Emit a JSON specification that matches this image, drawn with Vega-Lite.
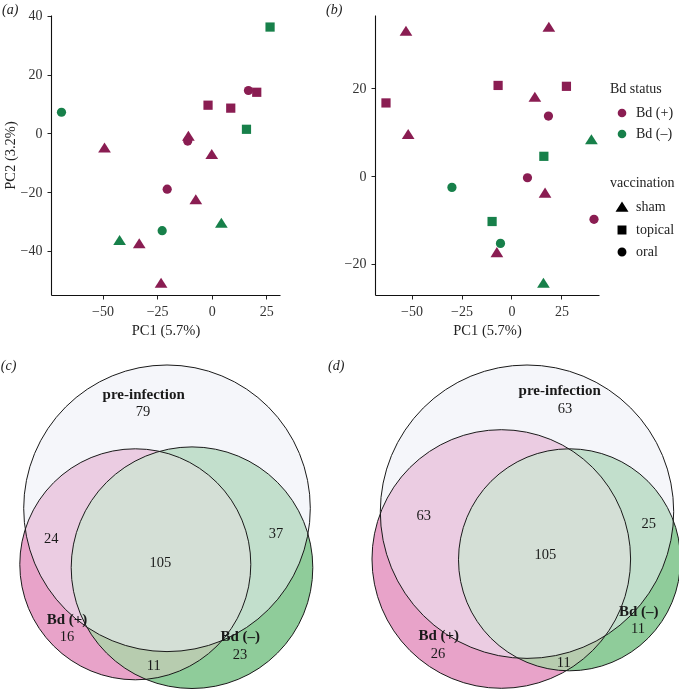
{
  "$schema": "https://vega.github.io/schema/vega-lite/v6.json",
  "background": "white",
  "padding": {"left": 0, "top": 2, "right": 0, "bottom": 0},
  "config": {
    "font": "Liberation Serif",
    "view": {"stroke": null},
    "axis": {"grid": false, "labelFlush": false, "domainColor": "#111", "domainWidth": 1.1, "tickColor": "#222", "tickSize": 4, "labelColor": "#333", "labelFontSize": 14, "labelPadding": 5, "titleColor": "#222", "titleFontSize": 14.5, "titleFontWeight": "normal", "titlePadding": 5},
    "legend": {"labelFontSize": 14, "titleFontSize": 14, "titleFontWeight": "normal", "labelColor": "#222", "titleColor": "#222"},
    "title": {"fontSize": 14, "fontStyle": "italic", "fontWeight": "normal", "anchor": "start", "color": "#222"}
  },
  "datasets": {
    "pca": [
      {"panel": "a", "pc1": 26.7, "pc2": 36.2, "status": "Bd (–)", "vacc": "topical"},
      {"panel": "a", "pc1": 16.8, "pc2": 14.6, "status": "Bd (+)", "vacc": "oral"},
      {"panel": "a", "pc1": 20.6, "pc2": 14.0, "status": "Bd (+)", "vacc": "topical"},
      {"panel": "a", "pc1": -1.7, "pc2": 9.6, "status": "Bd (+)", "vacc": "topical"},
      {"panel": "a", "pc1": 8.7, "pc2": 8.6, "status": "Bd (+)", "vacc": "topical"},
      {"panel": "a", "pc1": -68.8, "pc2": 7.2, "status": "Bd (–)", "vacc": "oral"},
      {"panel": "a", "pc1": 15.9, "pc2": 1.4, "status": "Bd (–)", "vacc": "topical"},
      {"panel": "a", "pc1": -10.7, "pc2": -0.8, "status": "Bd (+)", "vacc": "sham"},
      {"panel": "a", "pc1": -11.0, "pc2": -2.6, "status": "Bd (+)", "vacc": "oral"},
      {"panel": "a", "pc1": -49.1, "pc2": -4.8, "status": "Bd (+)", "vacc": "sham"},
      {"panel": "a", "pc1": 0.0, "pc2": -7.0, "status": "Bd (+)", "vacc": "sham"},
      {"panel": "a", "pc1": -20.4, "pc2": -19.0, "status": "Bd (+)", "vacc": "oral"},
      {"panel": "a", "pc1": -7.3, "pc2": -22.4, "status": "Bd (+)", "vacc": "sham"},
      {"panel": "a", "pc1": 4.4, "pc2": -30.4, "status": "Bd (–)", "vacc": "sham"},
      {"panel": "a", "pc1": -22.7, "pc2": -33.1, "status": "Bd (–)", "vacc": "oral"},
      {"panel": "a", "pc1": -42.2, "pc2": -36.3, "status": "Bd (–)", "vacc": "sham"},
      {"panel": "a", "pc1": -33.2, "pc2": -37.4, "status": "Bd (+)", "vacc": "sham"},
      {"panel": "a", "pc1": -23.2, "pc2": -50.8, "status": "Bd (+)", "vacc": "sham"},
      {"panel": "b", "pc1": -52.8, "pc2": 33.2, "status": "Bd (+)", "vacc": "sham"},
      {"panel": "b", "pc1": 18.7, "pc2": 34.1, "status": "Bd (+)", "vacc": "sham"},
      {"panel": "b", "pc1": -6.7, "pc2": 20.7, "status": "Bd (+)", "vacc": "topical"},
      {"panel": "b", "pc1": 27.5, "pc2": 20.5, "status": "Bd (+)", "vacc": "topical"},
      {"panel": "b", "pc1": -62.8, "pc2": 16.7, "status": "Bd (+)", "vacc": "topical"},
      {"panel": "b", "pc1": 11.7, "pc2": 18.1, "status": "Bd (+)", "vacc": "sham"},
      {"panel": "b", "pc1": 18.5, "pc2": 13.7, "status": "Bd (+)", "vacc": "oral"},
      {"panel": "b", "pc1": -51.7, "pc2": 9.6, "status": "Bd (+)", "vacc": "sham"},
      {"panel": "b", "pc1": 40.0, "pc2": 8.4, "status": "Bd (–)", "vacc": "sham"},
      {"panel": "b", "pc1": 16.2, "pc2": 4.5, "status": "Bd (–)", "vacc": "topical"},
      {"panel": "b", "pc1": 8.0, "pc2": -0.4, "status": "Bd (+)", "vacc": "oral"},
      {"panel": "b", "pc1": -29.8, "pc2": -2.6, "status": "Bd (–)", "vacc": "oral"},
      {"panel": "b", "pc1": 16.8, "pc2": -3.8, "status": "Bd (+)", "vacc": "sham"},
      {"panel": "b", "pc1": 41.3, "pc2": -9.9, "status": "Bd (+)", "vacc": "oral"},
      {"panel": "b", "pc1": -9.7, "pc2": -10.4, "status": "Bd (–)", "vacc": "topical"},
      {"panel": "b", "pc1": -5.5, "pc2": -15.4, "status": "Bd (–)", "vacc": "oral"},
      {"panel": "b", "pc1": -7.3, "pc2": -17.4, "status": "Bd (+)", "vacc": "sham"},
      {"panel": "b", "pc1": 16.0, "pc2": -24.4, "status": "Bd (–)", "vacc": "sham"}
    ],
    "circles": [
      {"panel": "c", "set": "pre-infection", "vx": 165, "vy": 181.7, "r": 143.3},
      {"panel": "c", "set": "Bd (+)", "vx": 133.3, "vy": 125.7, "r": 115.5},
      {"panel": "c", "set": "Bd (–)", "vx": 190, "vy": 122.3, "r": 120.8},
      {"panel": "d", "set": "pre-infection", "vx": 190, "vy": 178.3, "r": 146.7},
      {"panel": "d", "set": "Bd (+)", "vx": 164.3, "vy": 131, "r": 129.3},
      {"panel": "d", "set": "Bd (–)", "vx": 232.5, "vy": 130.2, "r": 111}
    ],
    "vlabels": [
      {"panel": "c", "kind": "name", "label": "pre-infection", "vx": 141.7, "vy": 295.7},
      {"panel": "c", "kind": "count", "label": "79", "vx": 141, "vy": 278.3},
      {"panel": "c", "kind": "count", "label": "24", "vx": 49.3, "vy": 150.7},
      {"panel": "c", "kind": "count", "label": "37", "vx": 274, "vy": 155.7},
      {"panel": "c", "kind": "count", "label": "105", "vx": 158.3, "vy": 127.3},
      {"panel": "c", "kind": "name", "label": "Bd (+)", "vx": 65, "vy": 70.7},
      {"panel": "c", "kind": "count", "label": "16", "vx": 65, "vy": 53},
      {"panel": "c", "kind": "name", "label": "Bd (–)", "vx": 238.3, "vy": 54},
      {"panel": "c", "kind": "count", "label": "23", "vx": 238, "vy": 35},
      {"panel": "c", "kind": "count", "label": "11", "vx": 151.7, "vy": 24},
      {"panel": "d", "kind": "name", "label": "pre-infection", "vx": 222.7, "vy": 300},
      {"panel": "d", "kind": "count", "label": "63", "vx": 228, "vy": 281},
      {"panel": "d", "kind": "count", "label": "63", "vx": 86.7, "vy": 174},
      {"panel": "d", "kind": "count", "label": "25", "vx": 311.7, "vy": 165.7},
      {"panel": "d", "kind": "count", "label": "105", "vx": 208.3, "vy": 134.7},
      {"panel": "d", "kind": "name", "label": "Bd (–)", "vx": 301.7, "vy": 79},
      {"panel": "d", "kind": "count", "label": "11", "vx": 301, "vy": 61.3},
      {"panel": "d", "kind": "name", "label": "Bd (+)", "vx": 101.7, "vy": 55},
      {"panel": "d", "kind": "count", "label": "26", "vx": 101, "vy": 35.7},
      {"panel": "d", "kind": "count", "label": "11", "vx": 226.7, "vy": 27.3}
    ]
  },
  "spacing": 19,
  "vconcat": [
    {
      "spacing": 46,
      "resolve": {"scale": {"color": "independent", "shape": "independent"}, "legend": {"color": "independent", "shape": "independent"}},
      "hconcat": [
        {
          "title": {"text": "(a)", "offset": -8},
          "width": 229,
          "height": 280,
          "data": {"name": "pca"},
          "transform": [{"filter": "datum.panel === 'a'"}],
          "mark": {"type": "point", "filled": true, "opacity": 1, "size": 85},
          "encoding": {
            "x": {"field": "pc1", "type": "quantitative", "scale": {"domain": [-73.6, 31.25], "nice": false, "zero": false}, "axis": {"values": [-50, -25, 0, 25], "title": "PC1 (5.7%)"}},
            "y": {"field": "pc2", "type": "quantitative", "scale": {"domain": [-55, 40.3], "nice": false, "zero": false}, "axis": {"values": [-40, -20, 0, 20, 40], "title": "PC2 (3.2%)", "titlePadding": 3}},
            "color": {"field": "status", "type": "nominal", "scale": {"domain": ["Bd (+)", "Bd (–)"], "range": ["#8a1d52", "#17804a"]}, "legend": null},
            "shape": {"field": "vacc", "type": "nominal", "scale": {"domain": ["sham", "topical", "oral"], "range": ["M0,-1.09L1.38,1.09L-1.38,1.09Z", "square", "circle"]}, "legend": null}
          }
        },
        {
          "title": {"text": "(b)", "offset": -2, "dx": -18},
          "width": 224,
          "height": 280,
          "data": {"name": "pca"},
          "transform": [{"filter": "datum.panel === 'b'"}],
          "mark": {"type": "point", "filled": true, "opacity": 1, "size": 85},
          "encoding": {
            "x": {"field": "pc1", "type": "quantitative", "scale": {"domain": [-68.3, 43.8], "nice": false, "zero": false}, "axis": {"values": [-50, -25, 0, 25], "title": "PC1 (5.7%)"}},
            "y": {"field": "pc2", "type": "quantitative", "scale": {"domain": [-27.2, 36.8], "nice": false, "zero": false}, "axis": {"values": [-20, 0, 20], "title": null}},
            "color": {"field": "status", "type": "nominal", "scale": {"domain": ["Bd (+)", "Bd (–)"], "range": ["#8a1d52", "#17804a"]}, "legend": {"title": "Bd status", "orient": "none", "legendX": 235, "legendY": 67, "symbolType": "circle", "symbolSize": 75, "symbolOffset": 5, "labelOffset": 7, "rowPadding": 7, "titlePadding": 10}},
            "shape": {"field": "vacc", "type": "nominal", "scale": {"domain": ["sham", "topical", "oral"], "range": ["M0,-1.09L1.38,1.09L-1.38,1.09Z", "square", "circle"]}, "legend": {"title": "vaccination", "orient": "none", "legendX": 235, "legendY": 161, "symbolSize": 55, "symbolFillColor": "black", "symbolStrokeColor": "black", "symbolOffset": 5, "labelOffset": 7, "rowPadding": 8, "titlePadding": 10}}
          }
        }
      ]
    },
    {
      "spacing": 0,
      "hconcat": [
        {
          "title": {"text": "(c)", "offset": -17, "dx": -17},
          "width": 277,
          "height": 334,
          "encoding": {
            "x": {"field": "vx", "type": "quantitative", "scale": {"domain": [49, 326], "nice": false, "zero": false}, "axis": null},
            "y": {"field": "vy", "type": "quantitative", "scale": {"domain": [0, 334], "nice": false, "zero": false}, "axis": null}
          },
          "layer": [
            {"data": {"name": "circles"}, "transform": [{"filter": "datum.panel === 'c' && datum.set === 'Bd (+)'"}], "mark": {"type": "point", "shape": "circle", "filled": true, "color": "#e8a3c9", "opacity": 1, "strokeWidth": 0}, "encoding": {"size": {"field": "r", "type": "quantitative", "scale": {"type": "pow", "exponent": 2, "domain": [0, 200], "range": [0, 160000]}, "legend": null}}},
            {"data": {"name": "circles"}, "transform": [{"filter": "datum.panel === 'c' && datum.set === 'Bd (–)'"}], "mark": {"type": "point", "shape": "circle", "filled": true, "color": "#8fcc9a", "opacity": 1, "strokeWidth": 0}, "encoding": {"size": {"field": "r", "type": "quantitative", "scale": {"type": "pow", "exponent": 2, "domain": [0, 200], "range": [0, 160000]}, "legend": null}}},
            {"data": {"name": "circles"}, "transform": [{"filter": "datum.panel === 'c' && datum.set === 'Bd (+)'"}], "mark": {"type": "point", "shape": "circle", "filled": true, "color": "#e8a3c9", "opacity": 0.45, "blend": "lighten", "strokeWidth": 0}, "encoding": {"size": {"field": "r", "type": "quantitative", "scale": {"type": "pow", "exponent": 2, "domain": [0, 200], "range": [0, 160000]}, "legend": null}}},
            {"data": {"name": "circles"}, "transform": [{"filter": "datum.panel === 'c' && datum.set === 'pre-infection'"}], "mark": {"type": "point", "shape": "circle", "filled": true, "color": "#edeff5", "opacity": 0.55, "strokeWidth": 0}, "encoding": {"size": {"field": "r", "type": "quantitative", "scale": {"type": "pow", "exponent": 2, "domain": [0, 200], "range": [0, 160000]}, "legend": null}}},
            {"data": {"name": "circles"}, "transform": [{"filter": "datum.panel === 'c'"}], "mark": {"type": "point", "shape": "circle", "filled": false, "color": "#1a1a1a", "opacity": 1, "strokeWidth": 1}, "encoding": {"size": {"field": "r", "type": "quantitative", "scale": {"type": "pow", "exponent": 2, "domain": [0, 200], "range": [0, 160000]}, "legend": null}}},
            {"data": {"name": "vlabels"}, "transform": [{"filter": "datum.panel === 'c' && datum.kind === 'name'"}], "mark": {"type": "text", "fontSize": 15, "fontWeight": "bold", "color": "#1a1a1a"}, "encoding": {"text": {"field": "label"}}},
            {"data": {"name": "vlabels"}, "transform": [{"filter": "datum.panel === 'c' && datum.kind === 'count'"}], "mark": {"type": "text", "fontSize": 14.5, "color": "#1a1a1a"}, "encoding": {"text": {"field": "label"}}}
          ]
        },
        {
          "title": {"text": "(d)", "offset": -17, "dx": -9},
          "width": 344,
          "height": 334,
          "encoding": {
            "x": {"field": "vx", "type": "quantitative", "scale": {"domain": [0, 344], "nice": false, "zero": false}, "axis": null},
            "y": {"field": "vy", "type": "quantitative", "scale": {"domain": [0, 334], "nice": false, "zero": false}, "axis": null}
          },
          "layer": [
            {"data": {"name": "circles"}, "transform": [{"filter": "datum.panel === 'd' && datum.set === 'Bd (+)'"}], "mark": {"type": "point", "shape": "circle", "filled": true, "color": "#e8a3c9", "opacity": 1, "strokeWidth": 0}, "encoding": {"size": {"field": "r", "type": "quantitative", "scale": {"type": "pow", "exponent": 2, "domain": [0, 200], "range": [0, 160000]}, "legend": null}}},
            {"data": {"name": "circles"}, "transform": [{"filter": "datum.panel === 'd' && datum.set === 'Bd (–)'"}], "mark": {"type": "point", "shape": "circle", "filled": true, "color": "#8fcc9a", "opacity": 1, "strokeWidth": 0}, "encoding": {"size": {"field": "r", "type": "quantitative", "scale": {"type": "pow", "exponent": 2, "domain": [0, 200], "range": [0, 160000]}, "legend": null}}},
            {"data": {"name": "circles"}, "transform": [{"filter": "datum.panel === 'd' && datum.set === 'Bd (+)'"}], "mark": {"type": "point", "shape": "circle", "filled": true, "color": "#e8a3c9", "opacity": 0.45, "blend": "lighten", "strokeWidth": 0}, "encoding": {"size": {"field": "r", "type": "quantitative", "scale": {"type": "pow", "exponent": 2, "domain": [0, 200], "range": [0, 160000]}, "legend": null}}},
            {"data": {"name": "circles"}, "transform": [{"filter": "datum.panel === 'd' && datum.set === 'pre-infection'"}], "mark": {"type": "point", "shape": "circle", "filled": true, "color": "#edeff5", "opacity": 0.55, "strokeWidth": 0}, "encoding": {"size": {"field": "r", "type": "quantitative", "scale": {"type": "pow", "exponent": 2, "domain": [0, 200], "range": [0, 160000]}, "legend": null}}},
            {"data": {"name": "circles"}, "transform": [{"filter": "datum.panel === 'd'"}], "mark": {"type": "point", "shape": "circle", "filled": false, "color": "#1a1a1a", "opacity": 1, "strokeWidth": 1}, "encoding": {"size": {"field": "r", "type": "quantitative", "scale": {"type": "pow", "exponent": 2, "domain": [0, 200], "range": [0, 160000]}, "legend": null}}},
            {"data": {"name": "vlabels"}, "transform": [{"filter": "datum.panel === 'd' && datum.kind === 'name'"}], "mark": {"type": "text", "fontSize": 15, "fontWeight": "bold", "color": "#1a1a1a"}, "encoding": {"text": {"field": "label"}}},
            {"data": {"name": "vlabels"}, "transform": [{"filter": "datum.panel === 'd' && datum.kind === 'count'"}], "mark": {"type": "text", "fontSize": 14.5, "color": "#1a1a1a"}, "encoding": {"text": {"field": "label"}}}
          ]
        }
      ]
    }
  ]
}
